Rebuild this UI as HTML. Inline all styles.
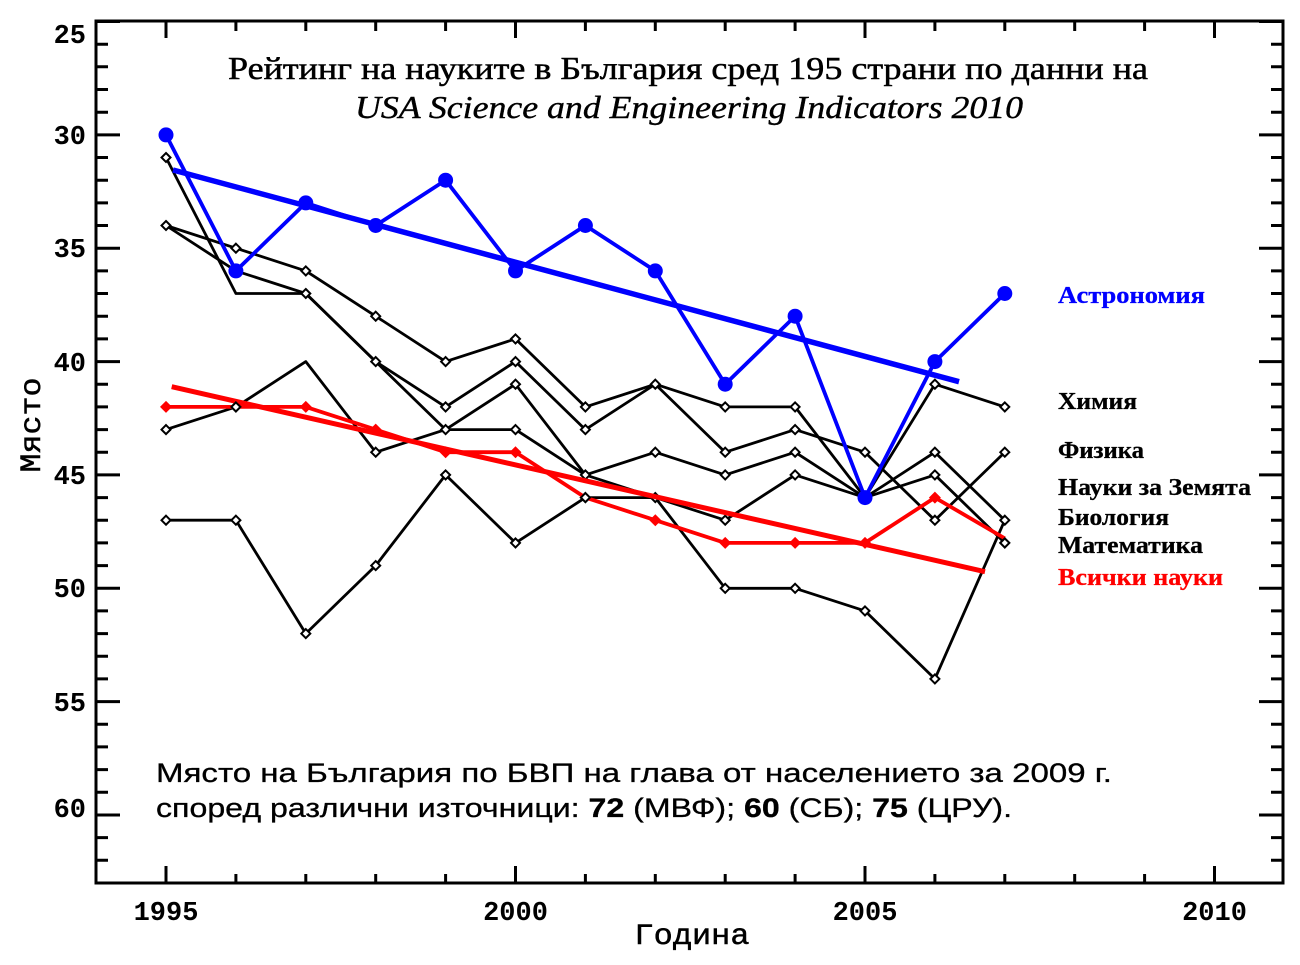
<!DOCTYPE html>
<html><head><meta charset="utf-8"><style>
html,body{margin:0;padding:0;background:#fff;}
svg{display:block;}
</style></head><body>
<svg width="1300" height="965" viewBox="0 0 1300 965" xmlns="http://www.w3.org/2000/svg">
<rect x="0" y="0" width="1300" height="965" fill="#fff"/>
<!-- frame -->
<rect x="96" y="21" width="1187" height="862" fill="none" stroke="#000" stroke-width="3"/>
<g stroke="#000" stroke-width="3">
<path d="M96 21.5h24M96 134.9h24M96 248.2h24M96 361.6h24M96 474.9h24M96 588.3h24M96 701.6h24M96 815h24"/>
<path d="M1283 21.5h-24M1283 134.9h-24M1283 248.2h-24M1283 361.6h-24M1283 474.9h-24M1283 588.3h-24M1283 701.6h-24M1283 815h-24"/>
<path d="M96 44.2h12M96 66.8h12M96 89.5h12M96 112.2h12M96 157.5h12M96 180.2h12M96 202.9h12M96 225.5h12M96 270.9h12M96 293.5h12M96 316.2h12M96 338.9h12M96 384.2h12M96 406.9h12M96 429.6h12M96 452.2h12M96 497.6h12M96 520.2h12M96 542.9h12M96 565.6h12M96 610.9h12M96 633.6h12M96 656.3h12M96 678.9h12M96 724.3h12M96 746.9h12M96 769.6h12M96 792.3h12M96 837.6h12M96 860.3h12"/>
<path d="M1283 44.2h-12M1283 66.8h-12M1283 89.5h-12M1283 112.2h-12M1283 157.5h-12M1283 180.2h-12M1283 202.9h-12M1283 225.5h-12M1283 270.9h-12M1283 293.5h-12M1283 316.2h-12M1283 338.9h-12M1283 384.2h-12M1283 406.9h-12M1283 429.6h-12M1283 452.2h-12M1283 497.6h-12M1283 520.2h-12M1283 542.9h-12M1283 565.6h-12M1283 610.9h-12M1283 633.6h-12M1283 656.3h-12M1283 678.9h-12M1283 724.3h-12M1283 746.9h-12M1283 769.6h-12M1283 792.3h-12M1283 837.6h-12M1283 860.3h-12"/>
<path d="M166 883v-17M515.5 883v-17M865 883v-17M1214.5 883v-17"/>
<path d="M166 21v17M515.5 21v17M865 21v17M1214.5 21v17"/>
<path d="M235.9 883v-9M305.8 883v-9M375.7 883v-9M445.6 883v-9M585.4 883v-9M655.3 883v-9M725.2 883v-9M795.1 883v-9M934.9 883v-9M1004.8 883v-9M1074.7 883v-9M1144.6 883v-9"/>
<path d="M235.9 21v10M305.8 21v10M375.7 21v10M445.6 21v10M585.4 21v10M655.3 21v10M725.2 21v10M795.1 21v10M934.9 21v10M1004.8 21v10M1074.7 21v10M1144.6 21v10"/>
</g>

<!-- Y tick labels -->
<g font-family="'Liberation Mono', monospace" font-weight="bold" font-size="27" fill="#000" text-anchor="end">
<text x="86" y="43">25</text>
<text x="86" y="144">30</text>
<text x="86" y="257">35</text>
<text x="86" y="371">40</text>
<text x="86" y="484">45</text>
<text x="86" y="597">50</text>
<text x="86" y="711">55</text>
<text x="86" y="817">60</text>
</g>
<g font-family="'Liberation Mono', monospace" font-weight="bold" font-size="27" fill="#000" text-anchor="middle">
<text x="166" y="920">1995</text>
<text x="515.5" y="920">2000</text>
<text x="865" y="920">2005</text>
<text x="1214.5" y="920">2010</text>
</g>
<text x="692" y="944" font-family="'Liberation Mono', monospace" font-size="30" text-anchor="middle" textLength="115" lengthAdjust="spacingAndGlyphs" stroke="#000" stroke-width="0.5">Година</text>
<text transform="translate(40,425) rotate(-90)" font-family="'Liberation Mono', monospace" font-size="30" text-anchor="middle" textLength="95" lengthAdjust="spacingAndGlyphs" stroke="#000" stroke-width="0.5">Място</text>

<!-- Title -->
<text x="228" y="79" font-family="'Liberation Serif', serif" font-size="32" textLength="920" lengthAdjust="spacingAndGlyphs" stroke="#000" stroke-width="0.5">Рейтинг на науките в България сред 195 страни по данни на</text>
<text x="355" y="118" font-family="'Liberation Serif', serif" font-style="italic" font-size="32" textLength="668" lengthAdjust="spacingAndGlyphs" stroke="#000" stroke-width="0.4">USA Science and Engineering Indicators 2010</text>

<!-- black series -->
<g fill="none" stroke="#000" stroke-width="2.8" stroke-linejoin="round">
<polyline points="166,225.5 235.9,248.2 305.8,270.9 375.7,316.2 445.6,361.6 515.5,338.9 585.4,406.9 655.3,384.2 725.2,406.9 795.1,406.9 865,497.6 934.9,384.2 1004.8,406.9"/>
<polyline points="166,225.5 235.9,270.9 305.8,293.5 375.7,361.6 445.6,406.9 515.5,361.6 585.4,429.6 655.3,384.2 725.2,452.2 795.1,429.6 865,452.2 934.9,520.2 1004.8,452.2"/>
<polyline points="166,157.5 235.9,293.5 305.8,293.5 375.7,361.6 445.6,429.6 515.5,384.2 585.4,474.9 655.3,452.2 725.2,474.9 795.1,452.2 865,497.6 934.9,452.2 1004.8,520.2"/>
<polyline points="166,429.6 235.9,406.9 305.8,361.6 375.7,452.2 445.6,429.6 515.5,429.6 585.4,474.9 655.3,497.6 725.2,520.2 795.1,474.9 865,497.6 934.9,474.9 1004.8,542.9"/>
<polyline points="166,520.2 235.9,520.2 305.8,633.6 375.7,565.6 445.6,474.9 515.5,542.9 585.4,497.6 655.3,497.6 725.2,588.3 795.1,588.3 865,610.9 934.9,678.9 1004.8,520.2"/>
</g>
<g fill="#fff" stroke="#000" stroke-width="2">
<path d="M166 221l4.5 4.5-4.5 4.5-4.5-4.5zM235.9 243.7l4.5 4.5-4.5 4.5-4.5-4.5zM305.8 266.4l4.5 4.5-4.5 4.5-4.5-4.5zM375.7 311.7l4.5 4.5-4.5 4.5-4.5-4.5zM445.6 357.1l4.5 4.5-4.5 4.5-4.5-4.5zM515.5 334.4l4.5 4.5-4.5 4.5-4.5-4.5zM585.4 402.4l4.5 4.5-4.5 4.5-4.5-4.5zM655.3 379.7l4.5 4.5-4.5 4.5-4.5-4.5zM725.2 402.4l4.5 4.5-4.5 4.5-4.5-4.5zM795.1 402.4l4.5 4.5-4.5 4.5-4.5-4.5zM934.9 379.7l4.5 4.5-4.5 4.5-4.5-4.5zM1004.8 402.4l4.5 4.5-4.5 4.5-4.5-4.5z"/>
<path d="M235.9 266.4l4.5 4.5-4.5 4.5-4.5-4.5zM305.8 289l4.5 4.5-4.5 4.5-4.5-4.5zM375.7 357.1l4.5 4.5-4.5 4.5-4.5-4.5zM445.6 402.4l4.5 4.5-4.5 4.5-4.5-4.5zM515.5 357.1l4.5 4.5-4.5 4.5-4.5-4.5zM585.4 425.1l4.5 4.5-4.5 4.5-4.5-4.5zM725.2 447.7l4.5 4.5-4.5 4.5-4.5-4.5zM795.1 425.1l4.5 4.5-4.5 4.5-4.5-4.5zM865 447.7l4.5 4.5-4.5 4.5-4.5-4.5zM934.9 515.7l4.5 4.5-4.5 4.5-4.5-4.5zM1004.8 447.7l4.5 4.5-4.5 4.5-4.5-4.5z"/>
<path d="M166 153l4.5 4.5-4.5 4.5-4.5-4.5zM445.6 425.1l4.5 4.5-4.5 4.5-4.5-4.5zM515.5 379.7l4.5 4.5-4.5 4.5-4.5-4.5zM585.4 470.4l4.5 4.5-4.5 4.5-4.5-4.5zM655.3 447.7l4.5 4.5-4.5 4.5-4.5-4.5zM725.2 470.4l4.5 4.5-4.5 4.5-4.5-4.5zM795.1 447.7l4.5 4.5-4.5 4.5-4.5-4.5zM934.9 447.7l4.5 4.5-4.5 4.5-4.5-4.5zM1004.8 515.7l4.5 4.5-4.5 4.5-4.5-4.5z"/>
<path d="M166 425.1l4.5 4.5-4.5 4.5-4.5-4.5zM235.9 402.4l4.5 4.5-4.5 4.5-4.5-4.5zM375.7 447.7l4.5 4.5-4.5 4.5-4.5-4.5zM515.5 425.1l4.5 4.5-4.5 4.5-4.5-4.5zM655.3 493.1l4.5 4.5-4.5 4.5-4.5-4.5zM725.2 515.7l4.5 4.5-4.5 4.5-4.5-4.5zM795.1 470.4l4.5 4.5-4.5 4.5-4.5-4.5zM934.9 470.4l4.5 4.5-4.5 4.5-4.5-4.5zM1004.8 538.4l4.5 4.5-4.5 4.5-4.5-4.5z"/>
<path d="M166 515.7l4.5 4.5-4.5 4.5-4.5-4.5zM235.9 515.7l4.5 4.5-4.5 4.5-4.5-4.5zM305.8 629.1l4.5 4.5-4.5 4.5-4.5-4.5zM375.7 561.1l4.5 4.5-4.5 4.5-4.5-4.5zM445.6 470.4l4.5 4.5-4.5 4.5-4.5-4.5zM515.5 538.4l4.5 4.5-4.5 4.5-4.5-4.5zM585.4 493.1l4.5 4.5-4.5 4.5-4.5-4.5zM725.2 583.8l4.5 4.5-4.5 4.5-4.5-4.5zM795.1 583.8l4.5 4.5-4.5 4.5-4.5-4.5zM865 606.4l4.5 4.5-4.5 4.5-4.5-4.5zM934.9 674.4l4.5 4.5-4.5 4.5-4.5-4.5z"/>
</g>

<!-- red series -->
<polyline fill="none" stroke="#ff0000" stroke-width="3.8" stroke-linejoin="round" points="166,406.9 235.9,406.9 305.8,406.9 375.7,429.6 445.6,452.2 515.5,452.2 585.4,497.6 655.3,520.2 725.2,542.9 795.1,542.9 865,542.9 934.9,497.6 1004.8,538.4"/>
<line x1="171.7" y1="386.7" x2="985" y2="571.7" stroke="#ff0000" stroke-width="5"/>
<g fill="#ff0000">
<path d="M166 400.9l6 6-6 6-6-6zM305.8 400.9l6 6-6 6-6-6zM375.7 423.6l6 6-6 6-6-6zM445.6 446.2l6 6-6 6-6-6zM515.5 446.2l6 6-6 6-6-6zM655.3 514.2l6 6-6 6-6-6zM725.2 536.9l6 6-6 6-6-6zM795.1 536.9l6 6-6 6-6-6zM865 536.9l6 6-6 6-6-6zM934.9 491.6l6 6-6 6-6-6z"/>
</g>
<g fill="#fff" stroke="#000" stroke-width="2">
<path d="M235.9 402.4l4.5 4.5-4.5 4.5-4.5-4.5zM585.4 493.1l4.5 4.5-4.5 4.5-4.5-4.5zM1004.8 538.4l4.5 4.5-4.5 4.5-4.5-4.5z"/>
</g>

<!-- blue series -->
<polyline fill="none" stroke="#0000ff" stroke-width="3.8" stroke-linejoin="round" points="166,134.9 235.9,270.9 305.8,202.9 375.7,225.5 445.6,180.2 515.5,270.9 585.4,225.5 655.3,270.9 725.2,384.2 795.1,316.2 865,497.6 934.9,361.6 1004.8,293.5"/>
<line x1="173" y1="170" x2="959" y2="381.7" stroke="#0000ff" stroke-width="5.5"/>
<g fill="#0000ff">
<circle cx="166" cy="134.9" r="7.5"/><circle cx="235.9" cy="270.9" r="7.5"/><circle cx="305.8" cy="202.9" r="7.5"/><circle cx="375.7" cy="225.5" r="7.5"/><circle cx="445.6" cy="180.2" r="7.5"/><circle cx="515.5" cy="270.9" r="7.5"/><circle cx="585.4" cy="225.5" r="7.5"/><circle cx="655.3" cy="270.9" r="7.5"/><circle cx="725.2" cy="384.2" r="7.5"/><circle cx="795.1" cy="316.2" r="7.5"/><circle cx="865" cy="497.6" r="7.5"/><circle cx="934.9" cy="361.6" r="7.5"/><circle cx="1004.8" cy="293.5" r="7.5"/>
</g>

<!-- legend labels -->
<g font-family="'Liberation Serif', serif" font-weight="bold" font-size="24" stroke-width="0.3">
<text x="1058" y="303" fill="#0000ff" stroke="#0000ff" textLength="147" lengthAdjust="spacingAndGlyphs">Астрономия</text>
<text x="1058" y="409" fill="#000" stroke="#000" textLength="79" lengthAdjust="spacingAndGlyphs">Химия</text>
<text x="1058" y="458" fill="#000" stroke="#000" textLength="86" lengthAdjust="spacingAndGlyphs">Физика</text>
<text x="1058" y="495" fill="#000" stroke="#000" textLength="193" lengthAdjust="spacingAndGlyphs">Науки за Земята</text>
<text x="1058" y="525" fill="#000" stroke="#000" textLength="111" lengthAdjust="spacingAndGlyphs">Биология</text>
<text x="1058" y="553" fill="#000" stroke="#000" textLength="145" lengthAdjust="spacingAndGlyphs">Математика</text>
<text x="1058" y="585" fill="#ff0000" stroke="#ff0000" textLength="165" lengthAdjust="spacingAndGlyphs">Всички науки</text>
</g>

<!-- bottom note -->
<g font-family="'Liberation Sans', Arial, sans-serif" font-size="26.5" fill="#000" stroke="#000" stroke-width="0.3" style="white-space:pre">
<text x="156" y="782" textLength="956" lengthAdjust="spacingAndGlyphs">Място на България по БВП  на глава от  населението  за 2009 г.</text>
<text x="156" y="817" textLength="856" lengthAdjust="spacingAndGlyphs">според различни източници: <tspan font-weight="bold">72</tspan> (МВФ); <tspan font-weight="bold">60</tspan> (СБ); <tspan font-weight="bold">75</tspan> (ЦРУ).</text>
</g>
</svg>
</body></html>
